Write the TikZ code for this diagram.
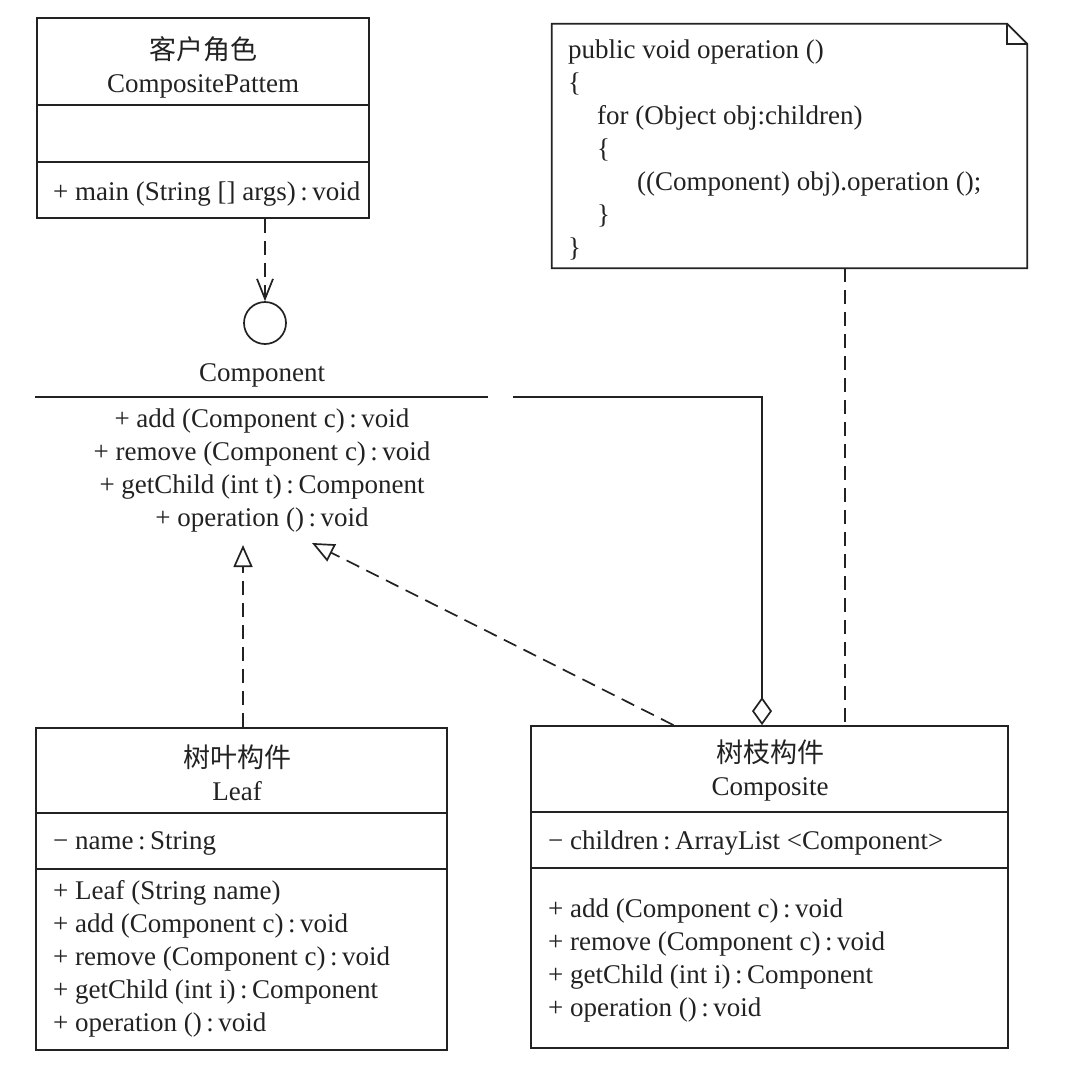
\documentclass[tikz,border=0pt]{standalone}
\usepackage{fontspec}
\setmainfont{Liberation Serif}
\newfontfamily\cjk{Noto Sans CJK SC}
\usetikzlibrary{arrows.meta}
\definecolor{ink}{HTML}{222222}
\newcommand{\tcolon}{\,:\,}
\tikzset{
  lbl/.style={font=\fontsize{27}{33}\selectfont, inner sep=0pt, text=ink},
  classbox/.style={draw=ink, line width=1.8pt, inner sep=0pt},
  rule/.style={draw=ink, line width=1.8pt},
  dashline/.style={draw=ink, line width=1.7pt, dash pattern=on 14pt off 8pt},
  realiz/.style={dashline, -{Triangle[open, length=22pt, width=19pt, fill=white]}},
  depen/.style={dashline, -{Straight Barb[length=20pt, width=16pt]}},
  aggreg/.style={draw=ink, line width=1.7pt, -{Diamond[open, length=28pt, width=20pt, fill=white]}},
}
\begin{document}
\begin{tikzpicture}[x=1pt, y=-1pt]
\useasboundingbox (0,0) rectangle (1070,1068);

% Client
\node[classbox, minimum width=332pt, minimum height=200pt] (client) at (203,118) {};
\draw[rule] (37,105) -- (369,105) (37,162) -- (369,162);
\node[lbl, align=center] (clientname) at (203,67) {{\cjk 客户角色}\\CompositePattem};
\node[lbl, anchor=west] (clientops) at (53,194) {+ main (String [] args)\tcolon void};

% Interficie
\node[draw=ink, line width=1.7pt, circle, minimum size=42pt, inner sep=0pt] (iface) at (265,323) {};
\draw[depen] (client.south -| iface.north) -- (iface.north);

% Component
\node[lbl] (compname) at (262,375) {Component};
\draw[rule] (35,397) -- (488,397);
\node[lbl, align=center] (compops) at (262,470) {+ add (Component c)\tcolon void\\+ remove (Component c)\tcolon void\\+ getChild (int t)\tcolon Component\\+ operation ()\tcolon void};
\coordinate (compR) at (513,397);
\coordinate (compS) at (243,545);
\coordinate (compSE) at (312,543);

% Nota
\node[minimum width=475pt, minimum height=244pt] (note) at (789.5,146) {};
\draw[rule, line width=1.7pt] (note.south west) -- (note.south east) -- ([yshift=-20pt]note.north east) -- ([xshift=-20pt]note.north east) -- (note.north west) -- cycle;
\draw[rule, line width=1.7pt] ([xshift=-20pt]note.north east) |- ([yshift=-20pt]note.north east);
\node[lbl, anchor=west, align=left] (code) at (568,149.5) {public void operation ()\\\{\\\hspace*{29pt}for (Object obj:children)\\\hspace*{29pt}\{\\\hspace*{69pt}((Component) obj).operation ();\\\hspace*{29pt}\}\\\}};

% Leaf
\node[classbox, minimum width=411pt, minimum height=322pt] (leaf) at (241.5,889) {};
\draw[rule] (36,813) -- (447,813) (36,869) -- (447,869);
\node[lbl, align=center] (leafname) at (237,773) {{\cjk 树叶构件}\\Leaf};
\node[lbl, anchor=west] (leafattr) at (53,843) {− name\tcolon String};
\node[lbl, anchor=west, align=left] (leafops) at (53,959) {+ Leaf (String name)\\+ add (Component c)\tcolon void\\+ remove (Component c)\tcolon void\\+ getChild (int i)\tcolon Component\\+ operation ()\tcolon void};

% Composite
\node[classbox, minimum width=477pt, minimum height=322pt] (composite) at (769.5,887) {};
\draw[rule] (531,812) -- (1008,812) (531,868) -- (1008,868);
\node[lbl, align=center] (compositename) at (770,770.5) {{\cjk 树枝构件}\\Composite};
\node[lbl, anchor=west] (compositeattr) at (548,843) {− children\tcolon ArrayList <Component>};
\node[lbl, anchor=west, align=left] (compositeops) at (548,960.5) {+ add (Component c)\tcolon void\\+ remove (Component c)\tcolon void\\+ getChild (int i)\tcolon Component\\+ operation ()\tcolon void};

% Connectors
\draw[realiz] (leaf.north -| compS) -- (compS);
\draw[realiz] ([xshift=-96pt]composite.north) -- (compSE);
\draw[aggreg] (compR) -| ([xshift=-7.5pt]composite.north);
\coordinate (noteS) at ([xshift=55.5pt]note.south);
\draw[dashline] (noteS) -- (noteS |- composite.north);

\end{tikzpicture}
\end{document}
